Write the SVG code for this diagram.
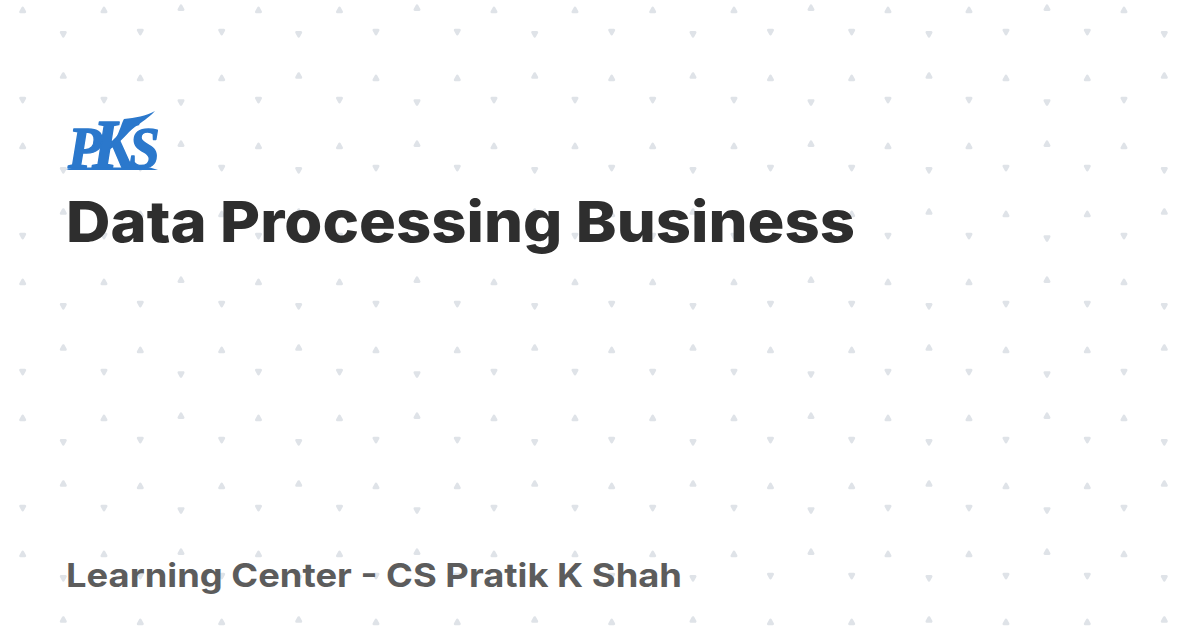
<svg xmlns="http://www.w3.org/2000/svg" width="1200" height="630" viewBox="0 0 1200 630">
<style>
.tri{fill:#dfe3e8;stroke:#dfe3e8;stroke-width:2.6;stroke-linejoin:round}
.title{font-family:"Inter","Liberation Sans",sans-serif;font-weight:800;font-size:57px;fill:#2e2e2e}
.sub{font-family:"Inter","Liberation Sans",sans-serif;font-weight:700;font-size:33px;fill:#5c5c5c}
.logo{font-family:"Liberation Serif",serif;font-weight:700;font-style:italic;fill:#2b78cc;stroke:#2b78cc;stroke-width:1.5;stroke-linejoin:round}
</style>
<defs>
<polygon id="u" class="tri" points="0,-2.1 2.2,1.9 -2.2,1.9"/>
<polygon id="d" class="tri" points="0,2.1 2.2,-1.9 -2.2,-1.9"/>
<g id="rowUA"><use href="#u" x="22.7" y="10"/><use href="#u" x="104" y="10"/><use href="#u" x="181" y="7.7"/><use href="#u" x="258.5" y="10"/><use href="#u" x="339.5" y="10"/><use href="#u" x="417" y="7.7"/><use href="#u" x="494" y="10"/><use href="#u" x="575" y="10"/><use href="#u" x="652.7" y="10"/><use href="#u" x="734" y="10"/><use href="#u" x="811" y="7.7"/><use href="#u" x="888" y="10"/><use href="#u" x="969" y="10"/><use href="#u" x="1047" y="7.7"/><use href="#u" x="1124" y="10"/></g>
<g id="rowDA"><use href="#d" x="22.7" y="100"/><use href="#d" x="104" y="100"/><use href="#d" x="181" y="102.4"/><use href="#d" x="258.5" y="100"/><use href="#d" x="339.5" y="100"/><use href="#d" x="417" y="102.4"/><use href="#d" x="494" y="100"/><use href="#d" x="575" y="100"/><use href="#d" x="652.7" y="100"/><use href="#d" x="734" y="100"/><use href="#d" x="811" y="102.4"/><use href="#d" x="888" y="100"/><use href="#d" x="969" y="100"/><use href="#d" x="1047" y="102.4"/><use href="#d" x="1124" y="100"/></g>
<g id="rowUB"><use href="#u" x="63.3" y="75.6"/><use href="#u" x="140.3" y="78"/><use href="#u" x="221.7" y="78"/><use href="#u" x="298.7" y="75.6"/><use href="#u" x="376" y="78"/><use href="#u" x="457.3" y="78"/><use href="#u" x="534.7" y="75.6"/><use href="#u" x="611.7" y="78"/><use href="#u" x="693" y="75.6"/><use href="#u" x="770.5" y="78"/><use href="#u" x="851.7" y="78"/><use href="#u" x="929" y="75.6"/><use href="#u" x="1006" y="78"/><use href="#u" x="1087.3" y="78"/><use href="#u" x="1164.3" y="75.6"/></g>
<g id="rowDB"><use href="#d" x="63.3" y="34.2"/><use href="#d" x="140.3" y="32"/><use href="#d" x="221.7" y="32"/><use href="#d" x="298.7" y="34.2"/><use href="#d" x="376" y="32"/><use href="#d" x="457.3" y="32"/><use href="#d" x="534.7" y="34.2"/><use href="#d" x="611.7" y="32"/><use href="#d" x="693" y="34.2"/><use href="#d" x="770.5" y="32"/><use href="#d" x="851.7" y="32"/><use href="#d" x="929" y="34.2"/><use href="#d" x="1006" y="32"/><use href="#d" x="1087.3" y="32"/><use href="#d" x="1164.3" y="34.2"/></g>
</defs>
<rect width="1200" height="630" fill="#ffffff"/>
<g id="background-pattern">
<use href="#rowUA"/><use href="#rowUA" y="136"/><use href="#rowUA" y="272"/><use href="#rowUA" y="408"/><use href="#rowUA" y="544"/>
<use href="#rowDA"/><use href="#rowDA" y="136"/><use href="#rowDA" y="272"/><use href="#rowDA" y="408"/><use href="#rowDA" y="544"/>
<use href="#rowUB"/><use href="#rowUB" y="136"/><use href="#rowUB" y="272"/><use href="#rowUB" y="408"/><use href="#rowUB" y="544"/>
<use href="#rowDB"/><use href="#rowDB" y="136"/><use href="#rowDB" y="272"/><use href="#rowDB" y="408"/><use href="#rowDB" y="544"/>
</g>
<g id="logo">
<text class="logo" transform="translate(68,167.5) scale(0.92,1)"><tspan font-size="60">P</tspan><tspan font-size="70" dx="-10">K</tspan><tspan font-size="60" dx="-7">S</tspan></text>
<path fill="#2b78cc" d="M66,170 L73,167.6 L150,167.6 L158,170 Z"/>
<path fill="#2b78cc" d="M106,152 C118,140 121,124 124,119 C135,118 146,116 155,111 C147,120 136,125 129,132 C121,141 114,147 106,152 Z"/>
</g>
<text id="title" class="title" x="66" y="242" textLength="789" lengthAdjust="spacingAndGlyphs">Data Processing Business</text>
<text id="subtitle" class="sub" x="66" y="586.5" textLength="616" lengthAdjust="spacingAndGlyphs">Learning Center - CS Pratik K Shah</text>
</svg>
